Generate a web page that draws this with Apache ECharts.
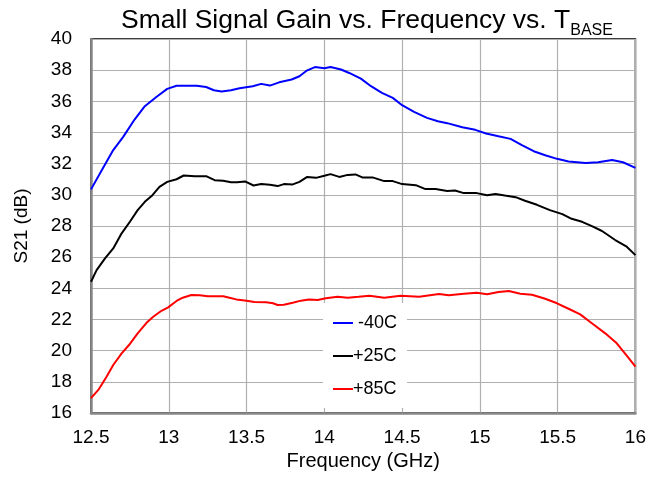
<!DOCTYPE html>
<html>
<head>
<meta charset="utf-8">
<script src="https://cdn.jsdelivr.net/npm/echarts@6/dist/echarts.min.js"></script>
<style>html,body{margin:0;padding:0;background:#fff}#c{width:649px;height:477px}</style>
</head>
<body>
<div id="c"></div>
<script>
const seriesNames = ['-40C', '+25C', '+85C'];
const xTicks = [12.5, 13, 13.5, 14, 14.5, 15, 15.5, 16];
const yTicks = [16, 18, 20, 22, 24, 26, 28, 30, 32, 34, 36, 38, 40];

const freqM40 = [12.5,12.57,12.643,12.707,12.78,12.846,12.92,12.99,13.05,13.18,13.24,13.29,13.34,13.40,13.455,13.54,13.594,13.65,13.71,13.79,13.84,13.89,13.94,14.0,14.04,14.107,14.16,14.235,14.30,14.37,14.44,14.50,14.577,14.66,14.73,14.79,14.887,14.97,15.04,15.12,15.197,15.27,15.346,15.42,15.496,15.57,15.68,15.76,15.85,15.92,16.0];
const gainM40 = [30.35,31.6,32.87,33.72,34.83,35.69,36.28,36.8,37.0,37.0,36.92,36.71,36.63,36.71,36.84,36.97,37.12,37.01,37.22,37.40,37.61,37.99,38.2,38.12,38.2,38.04,37.82,37.46,36.97,36.54,36.22,35.75,35.32,34.94,34.72,34.60,34.34,34.17,33.94,33.76,33.59,33.19,32.8,32.54,32.31,32.14,32.05,32.09,32.24,32.09,31.73];

const freqP25 = [12.5,12.536,12.59,12.643,12.697,12.75,12.80,12.846,12.895,12.94,12.99,13.05,13.096,13.167,13.24,13.295,13.35,13.40,13.44,13.49,13.545,13.594,13.65,13.70,13.74,13.797,13.84,13.89,13.946,14.0,14.04,14.096,14.15,14.20,14.244,14.31,14.385,14.44,14.50,14.588,14.65,14.715,14.79,14.84,14.897,14.98,15.047,15.10,15.16,15.23,15.29,15.367,15.45,15.53,15.59,15.657,15.72,15.785,15.87,15.944,16.0];
const gainP25 = [24.42,25.17,25.92,26.56,27.53,28.27,29.02,29.55,29.98,30.51,30.83,31.0,31.24,31.2,31.2,30.94,30.9,30.81,30.8,30.86,30.6,30.69,30.65,30.56,30.69,30.67,30.83,31.15,31.09,31.22,31.33,31.15,31.28,31.31,31.12,31.12,30.88,30.88,30.69,30.62,30.37,30.37,30.24,30.28,30.11,30.11,29.98,30.06,29.96,29.85,29.62,29.36,29.02,28.76,28.46,28.27,27.99,27.68,27.1,26.67,26.13];

const freqP85 = [12.5,12.547,12.60,12.643,12.697,12.75,12.80,12.857,12.90,12.953,12.996,13.05,13.09,13.145,13.2,13.25,13.35,13.39,13.434,13.50,13.55,13.626,13.67,13.70,13.74,13.797,13.85,13.90,13.957,14.01,14.085,14.15,14.22,14.29,14.385,14.49,14.61,14.737,14.80,14.897,14.98,15.047,15.12,15.186,15.26,15.335,15.42,15.496,15.57,15.645,15.72,15.806,15.88,15.944,16.0];
const gainP85 = [16.95,17.48,18.33,19.08,19.83,20.43,21.11,21.79,22.18,22.56,22.78,23.19,23.40,23.57,23.55,23.49,23.49,23.40,23.29,23.21,23.12,23.10,23.04,22.93,22.95,23.08,23.21,23.29,23.25,23.36,23.46,23.40,23.46,23.53,23.40,23.53,23.46,23.63,23.55,23.65,23.72,23.62,23.76,23.83,23.65,23.59,23.33,23.04,22.69,22.33,21.76,21.11,20.47,19.68,18.97];

const colors = ['#0000ff', '#000000', '#ff0000'];
const zip = (xs, ys) => xs.map((x, i) => [x, ys[i]]);
const allData = [zip(freqM40, gainM40), zip(freqP25, gainP25), zip(freqP85, gainP85)];

const FONT = '"Liberation Sans", Arial, Helvetica, sans-serif';
const chart = echarts.init(document.getElementById('c'), null, {renderer: 'canvas'});
chart.setOption({
  animation: false,
  backgroundColor: '#fff',
  textStyle: {fontFamily: FONT},
  title: {
    text: '{a|Small Signal Gain vs. Frequency vs. T}{b|BASE}',
    left: 362, textAlign: 'center', top: 2,
    textStyle: {
      rich: {
        a: {fontFamily: FONT, fontSize: 26.5, fontWeight: 'normal', color: '#000', lineHeight: 30, verticalAlign: 'top'},
        b: {fontFamily: FONT, fontSize: 16, fontWeight: 'normal', color: '#000', lineHeight: 30, verticalAlign: 'top', padding: [16, 0, 0, 0]}
      }
    }
  },
  grid: {left: 91, right: 13, top: 39, bottom: 64, show: true, borderColor: '#000', borderWidth: 1.5, backgroundColor: 'transparent'},
  legend: {
    orient: 'vertical', left: 323, top: 303,
    padding: [11, 10, 10, 10],
    backgroundColor: '#fff',
    itemGap: 15, itemWidth: 20, itemHeight: 2,
    icon: 'rect',
    data: seriesNames,
    formatter: n => n === '-40C' ? ' ' + n : n,
    textStyle: {fontFamily: FONT, fontSize: 18, color: '#000', padding: [0, 0, 0, -5]}
  },
  xAxis: {
    type: 'value', min: xTicks[0], max: xTicks[xTicks.length - 1], interval: 0.5,
    name: 'Frequency (GHz)', nameLocation: 'middle', nameGap: 38,
    nameTextStyle: {fontFamily: FONT, fontSize: 20, color: '#000'},
    axisLine: {show: true, lineStyle: {color: '#888', width: 2.5}},
    axisTick: {show: false},
    axisLabel: {fontFamily: FONT, fontSize: 19, color: '#000', margin: 15, formatter: v => String(v)},
    splitLine: {show: true, lineStyle: {color: '#b0b0b0', width: 1.2}}
  },
  yAxis: {
    type: 'value', min: yTicks[0], max: yTicks[yTicks.length - 1], interval: 2,
    name: 'S21 (dB)', nameLocation: 'middle', nameGap: 60,
    nameTextStyle: {fontFamily: FONT, fontSize: 19, color: '#000'},
    axisLine: {show: true, lineStyle: {color: '#888', width: 2.5}},
    axisTick: {show: false},
    axisLabel: {fontFamily: FONT, fontSize: 19, color: '#000', margin: 19},
    splitLine: {show: true, lineStyle: {color: '#b0b0b0', width: 1.2}}
  },
  series: seriesNames.map((n, i) => ({
    name: n, type: 'line', data: allData[i], symbol: 'none', smooth: false,
    lineStyle: {color: colors[i], width: 2}, itemStyle: {color: colors[i]}, z: 3 - i
  }))
});
</script>
</body>
</html>
